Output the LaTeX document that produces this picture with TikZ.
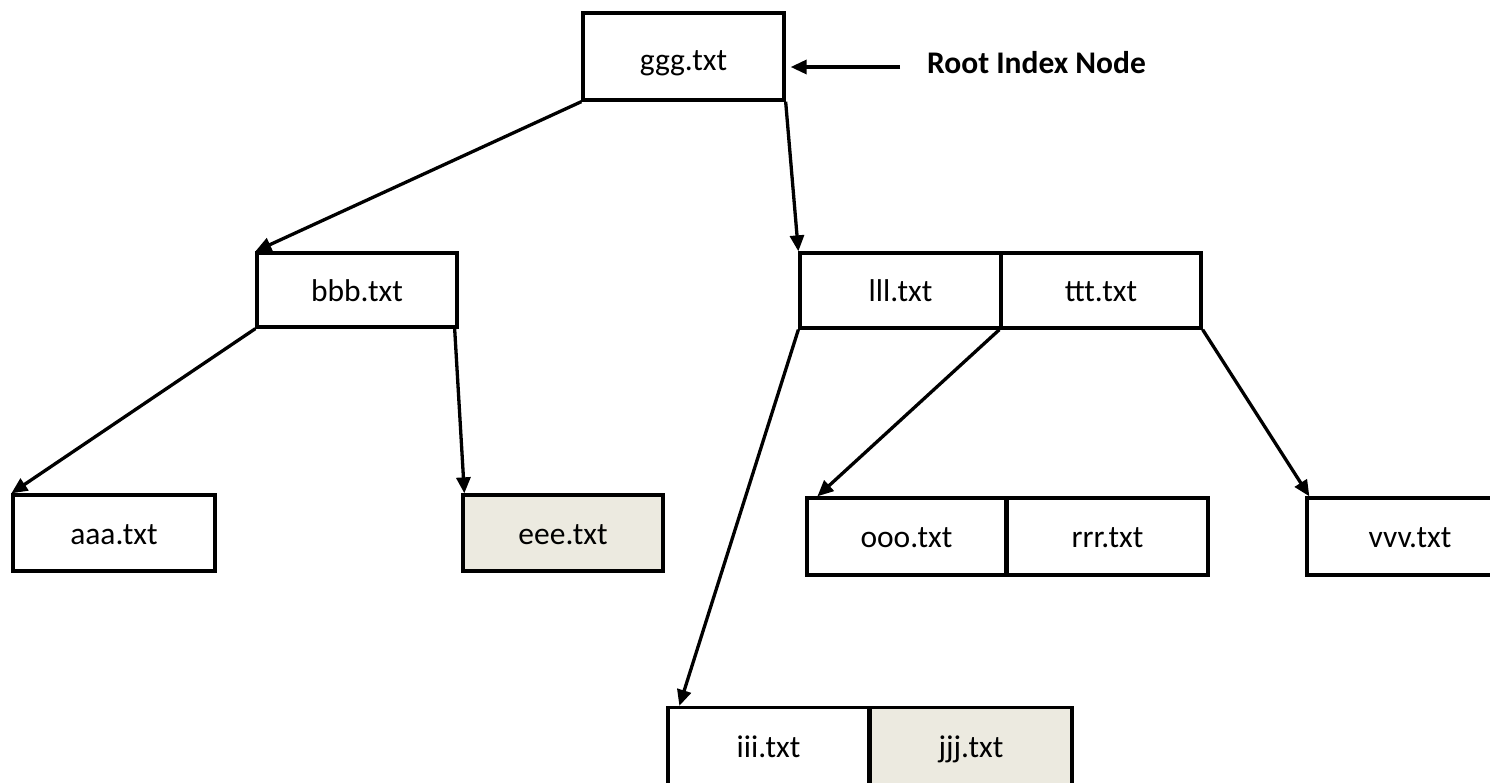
\documentclass[tikz,border=0pt]{standalone}
\usepackage{fontspec}
\setmainfont{Carlito}
\usetikzlibrary{arrows.meta}
\definecolor{shade}{HTML}{ECEAE0}
\tikzset{
  box/.style={draw=black, line width=3.3pt, minimum height=#1, inner sep=0pt,
    text height=22pt, text depth=0pt, font=\fontsize{31.5}{36}\selectfont},
  box/.default=76pt,
  arr/.style={line width=3.3pt, -{Triangle[length=16pt,width=14pt]}},
}
\begin{document}
\begin{tikzpicture}[x=1pt,y=-1pt]
\useasboundingbox (0,0) rectangle (1490,782);
\clip (0,0) rectangle (1490,782);
\node[box=87pt, minimum width=201pt, text height=27pt] (ggg) at (683.5,56.5) {ggg.txt};
\node[box=74pt, minimum width=200pt] (bbb) at (357,290) {bbb.txt};
\node[box=75pt, minimum width=201pt] (lll) at (900.5,290.5) {lll.txt};
\node[box=75pt, minimum width=200pt] (ttt) at (1101,290.5) {ttt.txt};
\node[box=76pt, minimum width=202pt] (aaa) at (114,533) {aaa.txt};
\node[box=76pt, minimum width=200pt, fill=shade] (eee) at (563,533) {eee.txt};
\node[box=77pt, minimum width=199pt] (ooo) at (906.5,536.5) {ooo.txt};
\node[box=77pt, minimum width=201pt] (rrr) at (1107.5,536.5) {rrr.txt};
\node[box=77pt, minimum width=206pt] (vvv) at (1410,536.5) {vvv.txt};
\node[box=77pt, minimum width=201pt] (iii) at (768.5,746) {iii.txt};
\node[box=77pt, minimum width=202pt, fill=shade] (jjj) at (971,746) {jjj.txt};
\node[anchor=base west, inner sep=0pt, font=\bfseries\fontsize{31.5}{36}\selectfont] (root) at (927,73) {Root Index Node};
\coordinate (rtail) at (900,67);
\draw[arr] (ggg.south west) -- (bbb.north west);
\draw[arr] (ggg.south east) -- (lll.north west);
\draw[arr] (bbb.south west) -- (aaa.north west);
\draw[arr] ([xshift=-4pt]bbb.south east) -- ([xshift=3pt]eee.north west);
\draw[arr] (lll.south west) -- ([xshift=13pt]iii.north west);
\draw[arr] (ttt.south west) -- ([xshift=12pt]ooo.north west);
\draw[arr] (ttt.south east) -- ([xshift=4pt]vvv.north west);
\draw[arr] (rtail) -- ([xshift=5pt]rtail -| ggg.east);
\end{tikzpicture}
\end{document}
